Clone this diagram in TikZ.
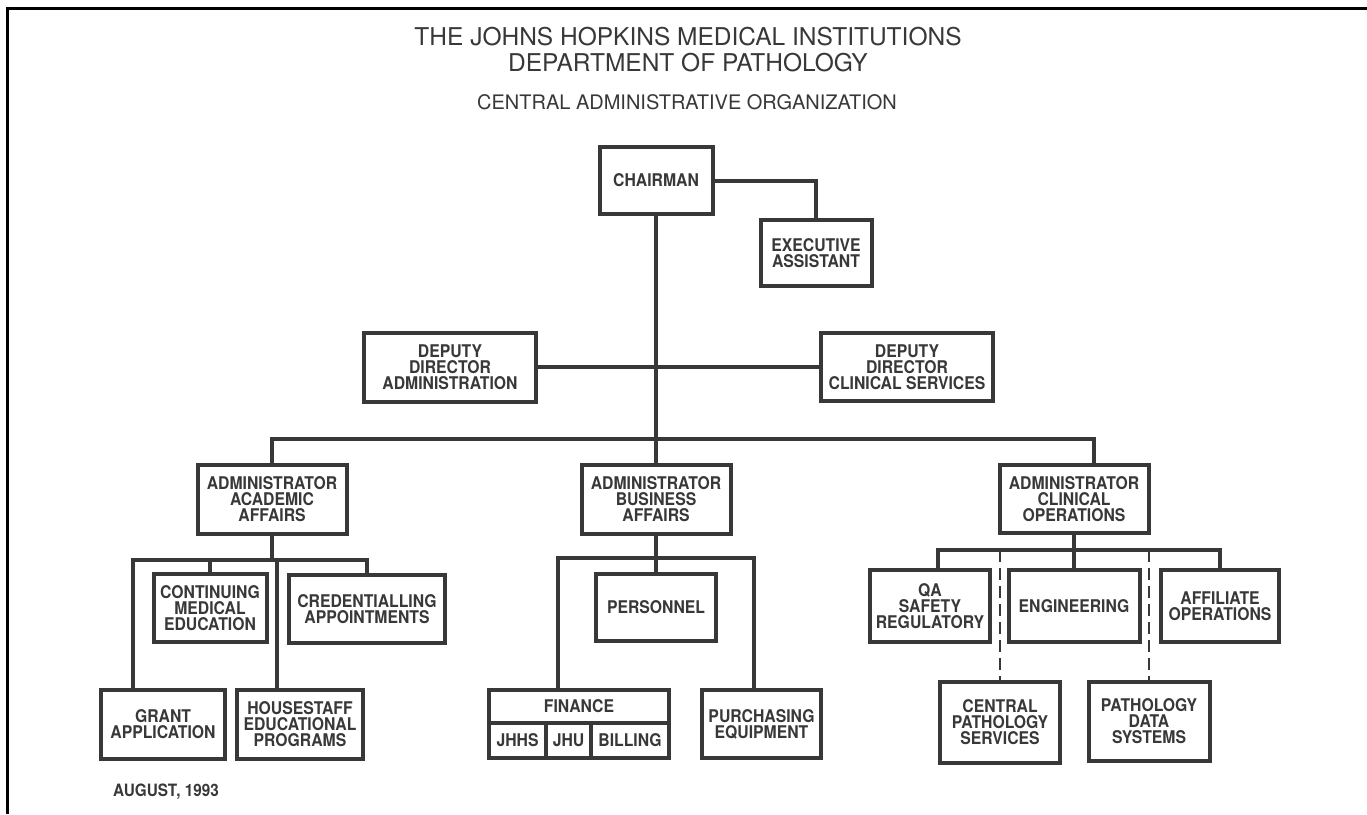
\documentclass[tikz,border=0pt]{standalone}
\usepackage{fontspec}
\setmainfont{TeX Gyre Heros}
\newfontfamily\boxfont{TeX Gyre Heros}[FakeStretch=0.9]
\definecolor{ink}{HTML}{383838}
\begin{document}
\begin{tikzpicture}[x=1pt,y=-1pt,
    box/.style={draw=ink,line width=4pt,inner sep=0pt,align=center,text=ink,font=\boxfont\bfseries\fontsize{17.5}{16}\selectfont},
    link/.style={draw=ink,line width=4pt,line join=miter},
    dashlink/.style={draw=ink,line width=2.5pt,dash pattern=on 12pt off 6pt}]
    \useasboundingbox (0,0) rectangle (1367,814);
    \draw[line width=3pt,line join=miter] (1367,8) -- (7,8) -- (7,814);
    \node[text=ink,align=center,font=\fontsize{24.5}{26}\selectfont] (title) at (688,50) {THE JOHNS HOPKINS MEDICAL INSTITUTIONS\\DEPARTMENT OF PATHOLOGY};
    \node[text=ink,font=\fontsize{20}{20}\selectfont] (subtitle) at (687,102) {CENTRAL ADMINISTRATIVE ORGANIZATION};
    \node[box,minimum width=113pt,minimum height=67pt] (chair) at (656,180.5) {CHAIRMAN};
    \node[box,minimum width=111pt,minimum height=66pt] (exec) at (816,253) {EXECUTIVE\\ASSISTANT};
    \node[box,minimum width=172pt,minimum height=69pt] (depadm) at (450,367) {DEPUTY\\DIRECTOR\\ADMINISTRATION};
    \node[box,minimum width=172pt,minimum height=68pt] (depclin) at (907,367) {DEPUTY\\DIRECTOR\\CLINICAL SERVICES};
    \node[box,minimum width=149pt,minimum height=69pt] (acad) at (272,499.5) {ADMINISTRATOR\\ACADEMIC\\AFFAIRS};
    \node[box,minimum width=149pt,minimum height=69pt] (bus) at (656,499) {ADMINISTRATOR\\BUSINESS\\AFFAIRS};
    \node[box,minimum width=149pt,minimum height=68pt] (clin) at (1074,499) {ADMINISTRATOR\\CLINICAL\\OPERATIONS};
    \node[box,minimum width=113pt,minimum height=68pt] (cme) at (210,608) {CONTINUING\\MEDICAL\\EDUCATION};
    \node[box,minimum width=156pt,minimum height=68pt] (cred) at (367,609) {CREDENTIALLING\\APPOINTMENTS};
    \node[box,minimum width=124pt,minimum height=69pt] (grant) at (163,724.5) {GRANT\\APPLICATION};
    \node[box,minimum width=126pt,minimum height=69pt] (house) at (300,724.5) {HOUSESTAFF\\EDUCATIONAL\\PROGRAMS};
    \node[box,minimum width=120pt,minimum height=67pt] (pers) at (656,607.5) {PERSONNEL};
    \node[box,minimum width=180pt,minimum height=33pt] (fin) at (579,706.5) {FINANCE};
    \node[box,minimum width=57pt,minimum height=35pt] (jhhs) at (517.5,740.5) {JHHS};
    \node[box,minimum width=45pt,minimum height=35pt] (jhu) at (568.5,740.5) {JHU};
    \node[box,minimum width=78pt,minimum height=35pt] (billing) at (630,740.5) {BILLING};
    \node[box,minimum width=119pt,minimum height=68pt] (purch) at (761.5,724) {PURCHASING\\EQUIPMENT};
    \node[box,minimum width=120pt,minimum height=72pt] (qa) at (930,606) {QA\\SAFETY\\REGULATORY};
    \node[box,minimum width=131pt,minimum height=72pt] (eng) at (1074,606) {ENGINEERING};
    \node[box,minimum width=118pt,minimum height=72pt] (affil) at (1220,606) {AFFILIATE\\OPERATIONS};
    \node[box,minimum width=120pt,minimum height=81pt] (cps) at (1000,722.5) {CENTRAL\\PATHOLOGY\\SERVICES};
    \node[box,minimum width=121pt,minimum height=79pt] (pds) at (1149,721.5) {PATHOLOGY\\DATA\\SYSTEMS};
    \node[text=ink,font=\boxfont\bfseries\fontsize{17}{17}\selectfont] (date) at (166,792) {AUGUST, 1993};
    \coordinate (mainR) at (1094,439);
    \coordinate (acadL) at (133,560);
    \coordinate (acadR) at (367,560);
    \coordinate (acadH) at (277,560);
    \coordinate (busL) at (558,558);
    \coordinate (busR) at (754,558);
    \coordinate (clinL) at (938,550);
    \coordinate (clinR) at (1220,550);
    \draw[link] (chair.east) -| (exec.north);
    \draw[link] (chair.south) -- (bus.north);
    \draw[link] (depadm.east) -- (depclin.west);
    \draw[link] (acad.north) |- (mainR) -- (mainR |- clin.north);
    \draw[link] (acad.south) -- (acad.south |- acadL);
    \draw[link] (acadL |- grant.north) -- (acadL) -- (acadR) -- (cred.north);
    \draw[link] (cme.north) -- (cme.north |- acadL);
    \draw[link] (acadH) -- (acadH |- house.north);
    \draw[link] (bus.south) -- (pers.north);
    \draw[link] (busL |- fin.north) -- (busL) -- (busR) -- (busR |- purch.north);
    \draw[link] (clin.south) -- (eng.north);
    \draw[link] (clinL |- qa.north) -- (clinL) -- (clinR) -- (affil.north);
    \draw[dashlink] (cps.north |- clinL) -- (cps.north);
    \draw[dashlink] (pds.north |- clinL) -- (pds.north);
\end{tikzpicture}
\end{document}
